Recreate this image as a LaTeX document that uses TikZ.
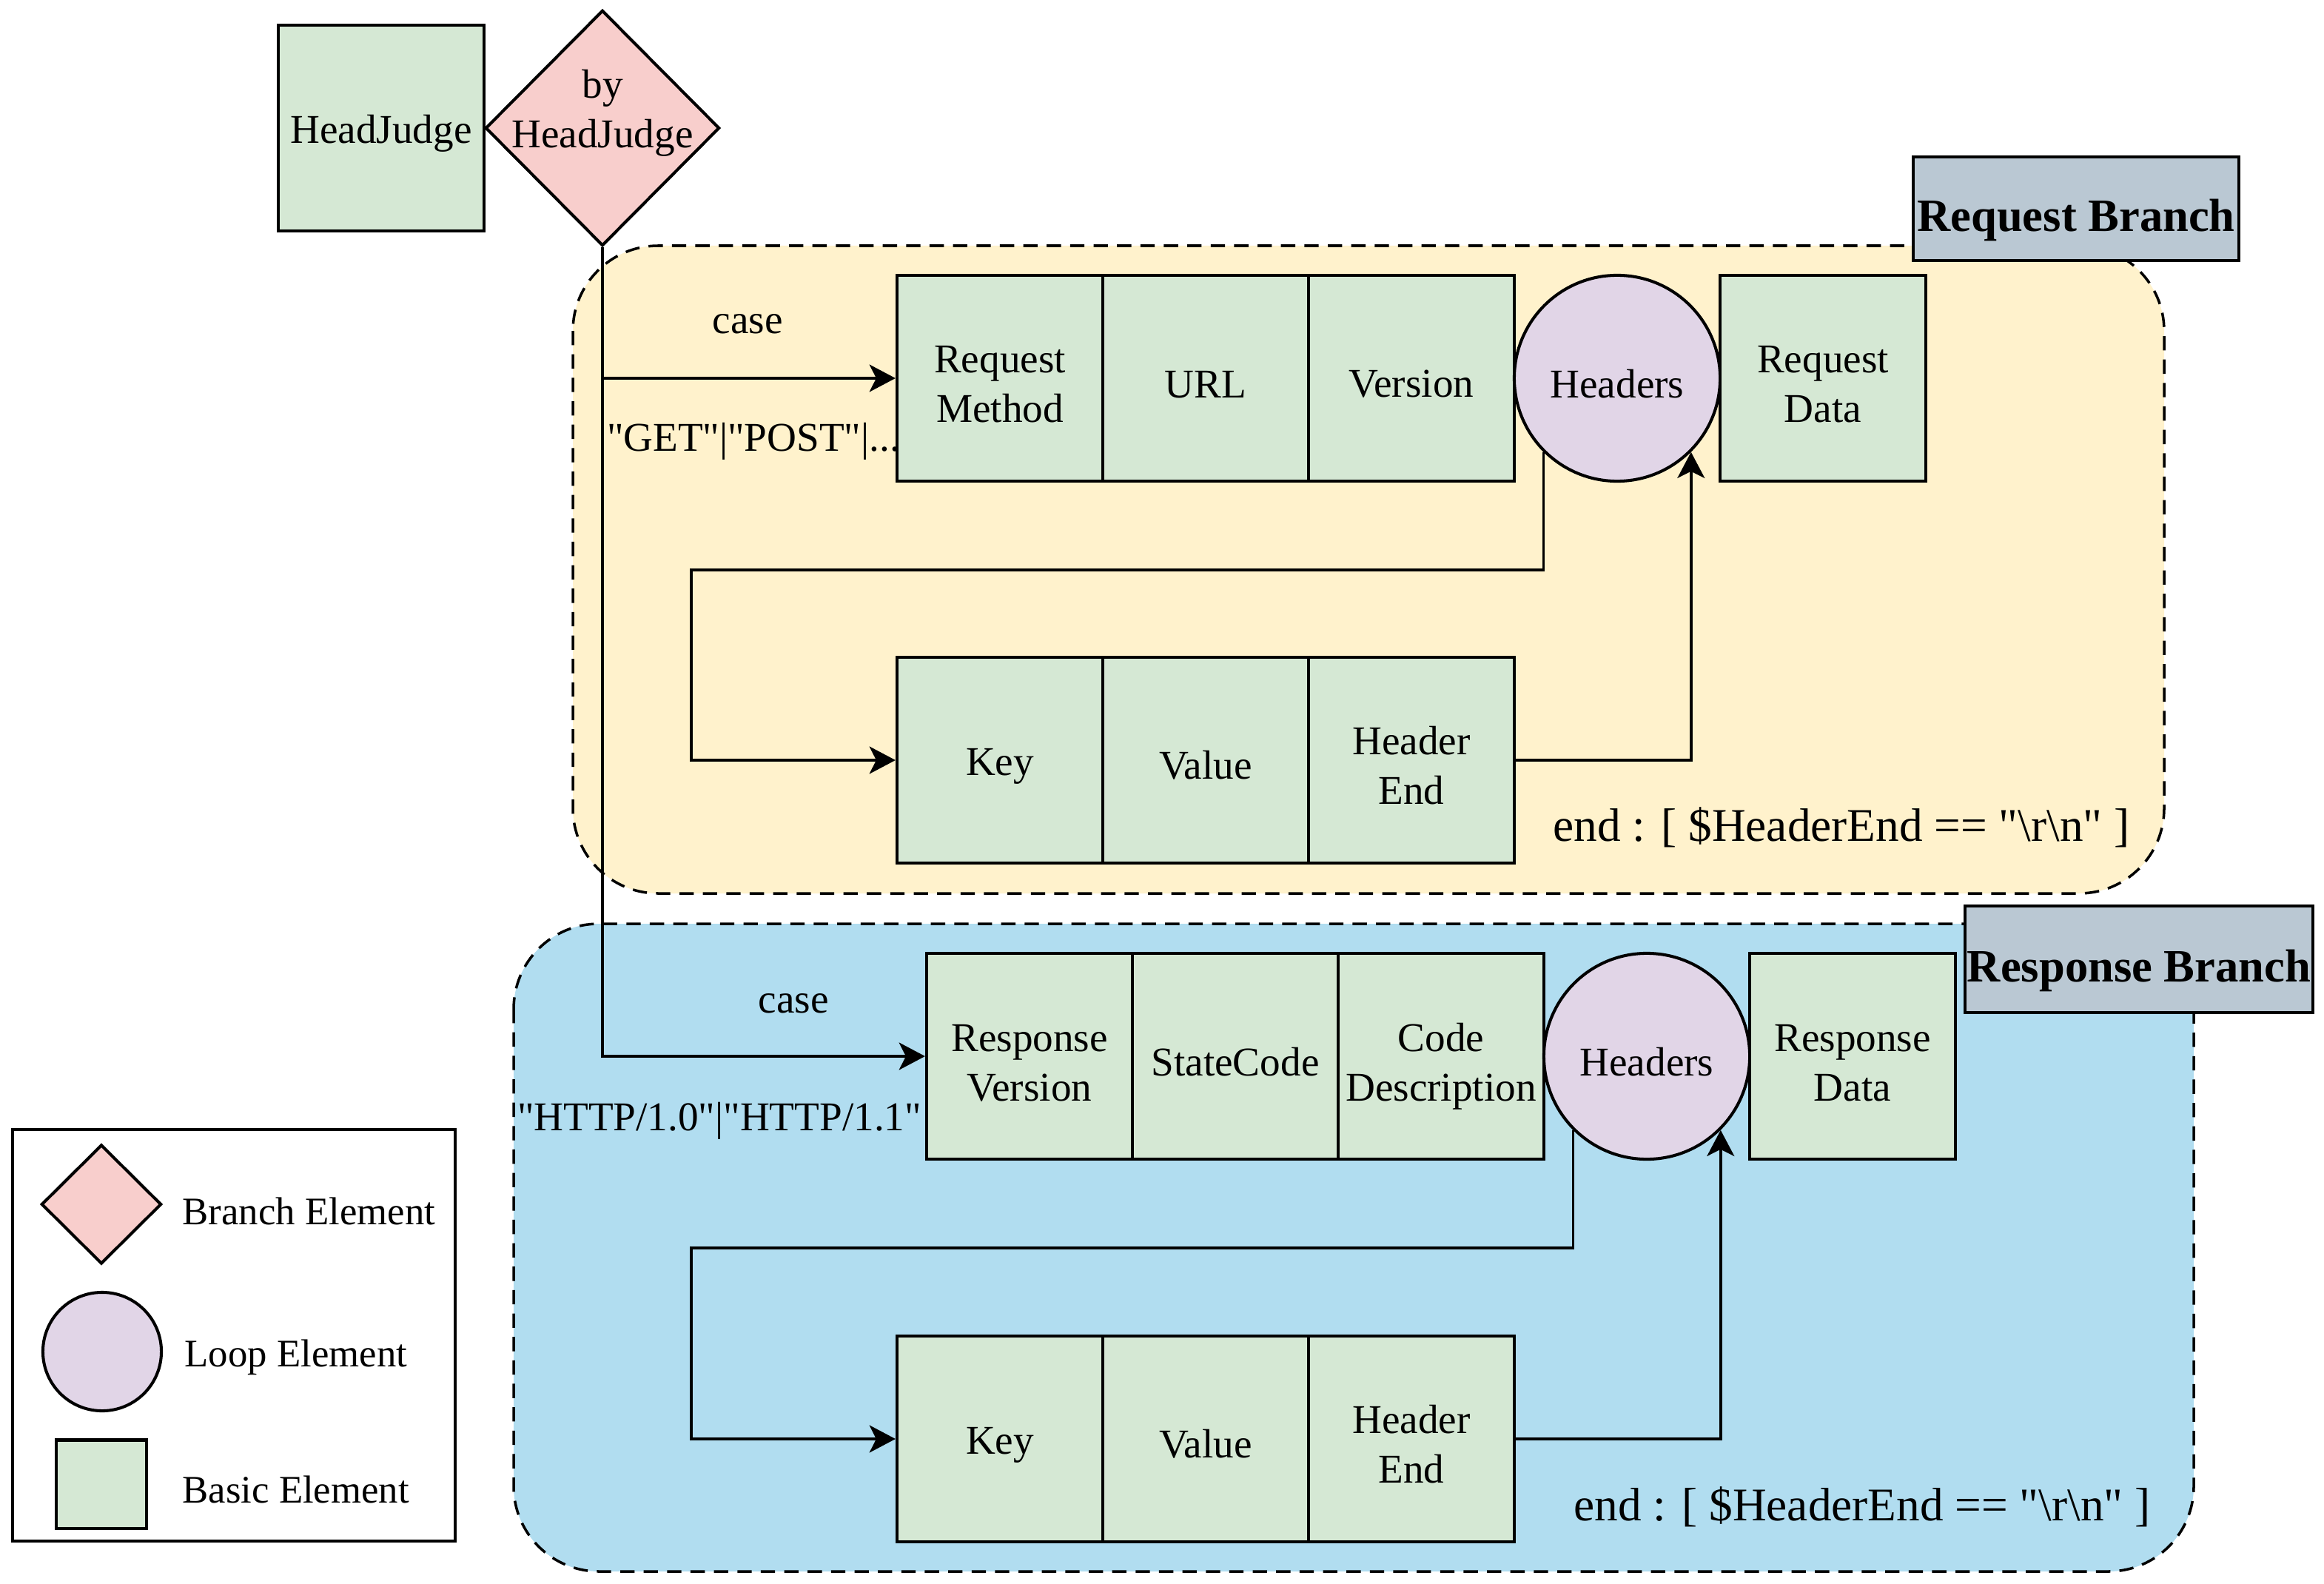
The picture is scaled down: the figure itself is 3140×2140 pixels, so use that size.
\documentclass[tikz,border=0pt]{standalone}
\usepackage{fontspec}
\setmainfont{Liberation Serif}[Ligatures=TeXOff]
\usetikzlibrary{shapes.geometric,arrows.meta}
\definecolor{basicgreen}{HTML}{D5E8D4}
\definecolor{branchpink}{HTML}{F8CECC}
\definecolor{looppurple}{HTML}{E1D5E7}
\definecolor{reqyellow}{HTML}{FFF2CC}
\definecolor{resblue}{HTML}{B1DDF0}
\definecolor{tagblue}{HTML}{BAC8D3}
\begin{document}
\begin{tikzpicture}[x=0.01cm, y=-0.01cm,
  every node/.style={font=\fontsize{15.7}{19}\selectfont, align=center},
  basicel/.style={draw, line width=1.15pt, fill=basicgreen, minimum width=2.78cm, minimum height=2.78cm, inner sep=0pt, execute at begin node={\rule{0pt}{15pt}}},
  loopel/.style={draw, line width=1.15pt, circle, fill=looppurple, minimum size=2.78cm, inner sep=0pt, execute at begin node={\rule{0pt}{15pt}}},
  branchel/.style={draw, line width=1.15pt, diamond, fill=branchpink, inner sep=0pt},
  area/.style={draw, line width=1pt, dash pattern=on 5.5pt off 3.5pt, rounded corners=1.15cm},
  tag/.style={draw, line width=1.15pt, fill=tagblue, inner sep=0pt, font=\fontsize{17.8}{21}\selectfont\bfseries, execute at begin node={\rule{0pt}{21.4pt}}},
  flow/.style={line width=1pt, -{Stealth[length=10pt, width=10.5pt, inset=2.6pt]}},
  endtext/.style={font=\fontsize{18}{22}\selectfont},
  legtext/.style={anchor=west, inner sep=0pt, font=\fontsize{15}{18}\selectfont}]
\useasboundingbox (0,0) rectangle (3140,2140);

% branch areas
\draw[area, fill=reqyellow] (774,332) rectangle (2924,1207);
\draw[area, fill=resblue] (694,1248) rectangle (2964,2123);
\node[tag, minimum width=4.39cm, minimum height=1.40cm] (reqtag) at (2805,282) {Request Branch};
\node[tag, minimum width=4.69cm, minimum height=1.43cm] (restag) at (2890,1296) {Response Branch};

% head
\node[basicel] (judge0) at (515,173) {HeadJudge};
\node[branchel, minimum width=3.16cm, minimum height=3.18cm, label={[yshift=0.2cm]center:by\\HeadJudge}] (judge1) at (814,173) {};

% case labels
\node (case0) at (1010,438) {case};
\node (val0) at (1018,596) {"GET"|"POST"|...};
\node (case1) at (1072,1356) {case};
\node (val1) at (972,1514) {"HTTP/1.0"|"HTTP/1.1"};

% request branch
\node[basicel] (req1) at (1351,511) {\rule{0pt}{15pt}Request\\Method};
\node[basicel] (req2) at (1629,511) {URL};
\node[basicel] (req3) at (1907,511) {Version};
\node[loopel] (req4) at (2185,511) {Headers};
\node[basicel] (req5) at (2463,511) {\rule{0pt}{15pt}Request\\Data};
\node[basicel] (reqk1) at (1351,1027) {Key};
\node[basicel] (reqk2) at (1629,1027) {Value};
\node[basicel] (reqk3) at (1907,1027) {\rule{0pt}{15pt}Header\\End};
\node[endtext] (reqend) at (2488,1118) {end : [ \$HeaderEnd == "\textbackslash r\textbackslash n" ]};
\coordinate (bend0) at (934,770);
\draw[flow] (req4.south west) |- (bend0) |- (reqk1.west);
\draw[flow] (reqk3.east) -| (req4.south east);

% response branch
\node[basicel] (res1) at (1391,1427) {\rule{0pt}{15.5pt}Response\\Version};
\node[basicel] (res2) at (1669,1427) {StateCode};
\node[basicel] (res3) at (1947,1427) {\rule{0pt}{18.7pt}Code\\Description};
\node[loopel] (res4) at (2225,1427) {Headers};
\node[basicel] (res5) at (2503,1427) {\rule{0pt}{15.5pt}Response\\Data};
\node[basicel] (resk1) at (1351,1944) {Key};
\node[basicel] (resk2) at (1629,1944) {Value};
\node[basicel] (resk3) at (1907,1944) {\rule{0pt}{15pt}Header\\End};
\node[endtext] (resend) at (2516,2036) {end : [ \$HeaderEnd == "\textbackslash r\textbackslash n" ]};
\coordinate (bend1) at (934,1686);
\draw[flow] (res4.south west) |- (bend1) |- (resk1.west);
\draw[flow] (resk3.east) -| (res4.south east);

% case arrows
\draw[flow] (judge1.south) |- (req1.west);
\draw[flow] (judge1.south) |- (res1.west);

% legend
\node[draw, line width=1.15pt, fill=white, minimum width=5.97cm, minimum height=5.56cm] (legend) at (316,1804) {};
\node[branchel, minimum width=1.62cm, minimum height=1.61cm] (lg1) at (137,1627) {};
\node[loopel, minimum size=1.6cm] (lg2) at (138,1826) {};
\node[basicel, minimum width=1.21cm, minimum height=1.19cm] (lg3) at (137,2005) {};
\node[legtext] (lgt1) at (246,1636) {Branch Element};
\node[legtext] (lgt2) at (249,1834) {Loop Element};
\node[legtext] (lgt3) at (246,2012) {Basic Element};

\end{tikzpicture}
\end{document}
